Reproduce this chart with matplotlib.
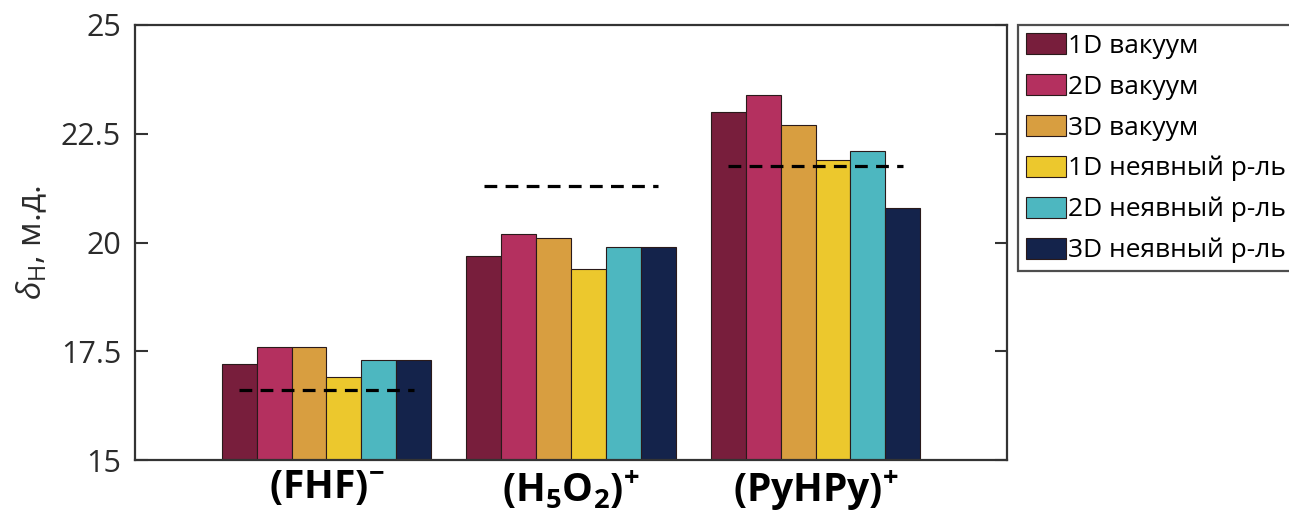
import numpy as np
import matplotlib
matplotlib.use("Agg")
import matplotlib.pyplot as plt

plt.rcParams['font.family'] = ['Open Sans', 'DejaVu Sans']
plt.rcParams['mathtext.fontset'] = 'custom'
plt.rcParams['mathtext.rm'] = 'Open Sans'
plt.rcParams['mathtext.it'] = 'Open Sans:italic'
plt.rcParams['mathtext.bf'] = 'Open Sans:bold'

# Data
systems = [r'$\mathbf{(FHF)^{-}}$', r'$\mathbf{(H_5O_2)^{+}}$', r'$\mathbf{(PyHPy)^{+}}$']
series = ['1D вакуум', '2D вакуум', '3D вакуум',
          '1D неявный р-ль', '2D неявный р-ль', '3D неявный р-ль']
vac_1d = [17.2, 19.7, 23.0]
vac_2d = [17.6, 20.2, 23.4]
vac_3d = [17.6, 20.1, 22.7]
impl_1d = [16.9, 19.4, 21.9]
impl_2d = [17.3, 19.9, 22.1]
impl_3d = [17.3, 19.9, 20.8]
experiment = [16.6, 21.3, 21.75]   # dashed reference lines

colors = ['#781E3C', '#B4305F', '#D89E40', '#ECC82D', '#4DB7C0', '#14234B']
yticks = [15, 17.5, 20, 22.5, 25]

fig = plt.figure(figsize=(12.89, 5.17), dpi=100)
ax = fig.add_axes([135 / 1289, 1 - 460 / 517, (1007 - 135) / 1289, (460 - 25) / 517])

x = np.arange(1, len(systems) + 1)
w = 0.1425
values = [vac_1d, vac_2d, vac_3d, impl_1d, impl_2d, impl_3d]
for i, (vals, lab, c) in enumerate(zip(values, series, colors)):
    ax.bar(x + (i - 2.5) * w, vals, w, color=c, edgecolor='#2a1a1a',
           linewidth=0.8, label=lab, zorder=2)

for xi, e in zip(x, experiment):
    ax.plot([xi - 0.356, xi + 0.356], [e, e], color='black', lw=2.3,
            dashes=(4, 2.6), zorder=3)

ax.set_xlim(0.217, 3.783)
ax.set_ylim(15, 25)
ax.set_yticks(yticks)
ax.set_yticklabels(['15', '17.5', '20', '22.5', '25'])
ax.set_xticks(x)
ax.set_xticklabels(systems, fontsize=28)
ax.tick_params(axis='x', length=0, pad=6, colors='black')
ax.tick_params(axis='y', direction='in', length=9, width=1.5, right=True,
               labelsize=22, labelcolor='#2b2b2b', color='#333333', pad=10)
for s in ax.spines.values():
    s.set_linewidth(1.6)
    s.set_color('#333333')

ax.set_ylabel(r'$\delta_{\mathrm{H}}$, м.д.', fontsize=24, color='#2b2b2b', labelpad=8)

leg = fig.legend(loc='upper left', bbox_to_anchor=(1018 / 1289, 1 - 25 / 517),
                 fontsize=19, frameon=True, fancybox=False, edgecolor='#222222',
                 handlelength=1.5, handleheight=0.85, handletextpad=0.1,
                 labelspacing=0.58, borderpad=0.3, borderaxespad=0)
leg.get_frame().set_linewidth(1.6)

fig.savefig('out.png', dpi=100)
